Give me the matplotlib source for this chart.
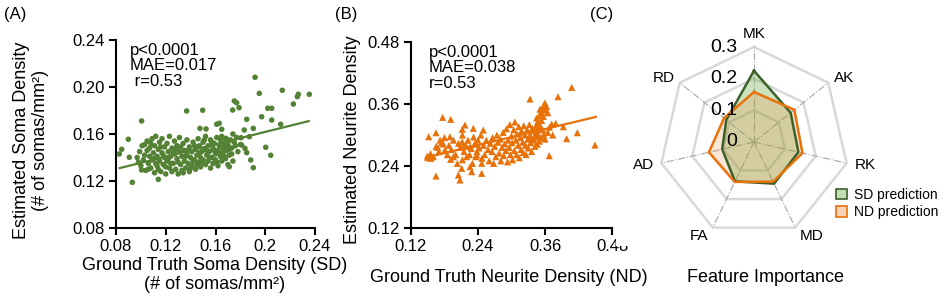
import numpy as np
import matplotlib
matplotlib.use("Agg")
import matplotlib.pyplot as plt
import matplotlib.transforms as mtransforms
from matplotlib.patches import Patch, Rectangle

plt.rcParams['font.family'] = ['Liberation Sans', 'DejaVu Sans']

# ---------------- data ----------------
# Panel A: Soma density (ground truth, estimated)
sd_x = [0.1918, 0.1952, 0.2137, 0.2266, 0.2258, 0.2226, 0.2354, 0.1751, 0.1770, 0.1738,
        0.1789, 0.2020, 0.2052, 0.1971, 0.1851, 0.1904, 0.2052, 0.2124, 0.1006, 0.1368,
        0.1497, 0.0899, 0.0846, 0.0827, 0.0907, 0.0931, 0.1006, 0.1140, 0.2004, 0.2044,
        0.1904, 0.1883, 0.1837, 0.1851, 0.1810, 0.1711, 0.1831, 0.1805, 0.1684, 0.1650,
        0.1610, 0.1630, 0.1475, 0.1524, 0.1872,
        0.097, 0.099, 0.100, 0.101, 0.102, 0.103, 0.104, 0.105, 0.105, 0.106, 0.107, 0.107,
        0.108, 0.109, 0.109, 0.110, 0.111, 0.111, 0.112, 0.112, 0.113, 0.114, 0.114, 0.115,
        0.115, 0.116, 0.117, 0.117, 0.118, 0.119, 0.119, 0.120, 0.121, 0.121, 0.122, 0.123,
        0.123, 0.124, 0.125, 0.125, 0.126, 0.127, 0.127, 0.128, 0.129, 0.129, 0.130, 0.131,
        0.131, 0.132, 0.133, 0.133, 0.134, 0.135, 0.135, 0.136, 0.137, 0.137, 0.138, 0.139,
        0.139, 0.140, 0.141, 0.141, 0.142, 0.143, 0.144, 0.144, 0.145, 0.146, 0.146, 0.147,
        0.148, 0.148, 0.149, 0.150, 0.150, 0.151, 0.152, 0.152, 0.153, 0.154, 0.154, 0.155,
        0.156, 0.156, 0.157, 0.158, 0.158, 0.159, 0.160, 0.160, 0.161, 0.162, 0.162, 0.163,
        0.164, 0.164, 0.165, 0.166, 0.166, 0.167, 0.168, 0.168, 0.169, 0.170, 0.170, 0.171,
        0.172, 0.173, 0.174, 0.175, 0.176, 0.178,
        0.098, 0.103, 0.106, 0.108, 0.110, 0.113, 0.116, 0.118, 0.120, 0.122, 0.124, 0.126,
        0.128, 0.130, 0.132, 0.134, 0.136, 0.138, 0.140, 0.142, 0.143, 0.145, 0.147, 0.149,
        0.151, 0.153, 0.155, 0.157, 0.159, 0.161, 0.163, 0.165, 0.167, 0.169, 0.171, 0.173,
        0.177, 0.180, 0.174]
sd_y = [0.2083, 0.1946, 0.1972, 0.1938, 0.1918, 0.1855, 0.1938, 0.1881, 0.1866, 0.1804,
        0.1824, 0.1819, 0.1819, 0.1747, 0.1725, 0.1648, 0.1719, 0.1683, 0.1711, 0.1796,
        0.1802, 0.1555, 0.1470, 0.1430, 0.1402, 0.1189, 0.1294, 0.1214, 0.1487, 0.1419,
        0.1313, 0.1379, 0.1478, 0.1441, 0.1506, 0.1322, 0.1634, 0.1568, 0.1563, 0.1640,
        0.1683, 0.1691, 0.1648, 0.1643, 0.1577,
        0.140, 0.145, 0.133, 0.150, 0.138, 0.142, 0.129, 0.146, 0.154, 0.135, 0.141, 0.148,
        0.131, 0.156, 0.138, 0.144, 0.127, 0.150, 0.135, 0.158, 0.141, 0.147, 0.130, 0.153,
        0.137, 0.128, 0.144, 0.156, 0.134, 0.149, 0.140, 0.126, 0.152, 0.137, 0.145, 0.131,
        0.158, 0.141, 0.148, 0.128, 0.135, 0.154, 0.143, 0.130, 0.139, 0.150, 0.126, 0.145,
        0.157, 0.134, 0.141, 0.129, 0.152, 0.137, 0.146, 0.131, 0.143, 0.155, 0.135, 0.149,
        0.128, 0.140, 0.145, 0.133, 0.153, 0.138, 0.147, 0.130, 0.142, 0.156, 0.136, 0.150,
        0.140, 0.132, 0.145, 0.153, 0.138, 0.147, 0.134, 0.158, 0.142, 0.150, 0.137, 0.145,
        0.131, 0.155, 0.140, 0.148, 0.135, 0.152, 0.143, 0.138, 0.157, 0.146, 0.133, 0.150,
        0.141, 0.155, 0.137, 0.148, 0.144, 0.152, 0.139, 0.156, 0.146, 0.134, 0.151, 0.142,
        0.155, 0.148, 0.137, 0.153, 0.150, 0.145,
        0.136, 0.151, 0.130, 0.152, 0.139, 0.133, 0.149, 0.142, 0.132, 0.139, 0.135, 0.144,
        0.147, 0.136, 0.149, 0.127, 0.141, 0.146, 0.131, 0.137, 0.150, 0.134, 0.144, 0.136,
        0.155, 0.146, 0.140, 0.153, 0.146, 0.136, 0.144, 0.158, 0.141, 0.150, 0.147, 0.143,
        0.157, 0.151, 0.160]
sd_fit_x = [0.083, 0.235]
sd_fit_y = [0.131, 0.171]

# Panel B: Neurite density (ground truth, estimated)
nd_x = [0.4078, 0.3833, 0.3331, 0.4495, 0.4179, 0.3988, 0.3738, 0.3677, 0.3928, 0.3792,
        0.3720, 0.1517, 0.1648, 0.1767, 0.1911, 0.1648, 0.2078, 0.2048, 0.1492, 0.1558,
        0.1779, 0.1809, 0.2167, 0.2118, 0.1898, 0.2118, 0.1911, 0.2108, 0.2287, 0.2257,
        0.2466, 0.2466, 0.2377, 0.2316, 0.2495, 0.2137, 0.2257, 0.2197, 0.2346,
        0.335, 0.339, 0.341, 0.337, 0.344, 0.347, 0.345, 0.350, 0.353, 0.351, 0.356, 0.358,
        0.360, 0.363, 0.355, 0.349, 0.343, 0.352, 0.357, 0.361, 0.365, 0.346, 0.354,
        0.250, 0.252, 0.255, 0.258, 0.260, 0.262, 0.265, 0.266, 0.268, 0.270, 0.272, 0.274,
        0.276, 0.278, 0.280, 0.281, 0.283, 0.285, 0.286, 0.288, 0.290, 0.291, 0.293, 0.294,
        0.296, 0.297, 0.298, 0.300, 0.301, 0.302, 0.304, 0.305, 0.306, 0.308, 0.309, 0.310,
        0.312, 0.313, 0.314, 0.316, 0.317, 0.318, 0.320, 0.321, 0.322, 0.324, 0.325, 0.326,
        0.328, 0.329, 0.330, 0.332, 0.333, 0.334, 0.336, 0.338, 0.340, 0.342, 0.344, 0.346,
        0.348, 0.350, 0.353, 0.356, 0.358, 0.360, 0.365, 0.368,
        0.240, 0.242, 0.245, 0.247, 0.238, 0.235, 0.232, 0.228, 0.225, 0.222, 0.218, 0.215,
        0.212, 0.208, 0.205, 0.200, 0.196, 0.192, 0.188, 0.185, 0.180, 0.175, 0.170, 0.165,
        0.160, 0.155, 0.150, 0.172, 0.168, 0.196, 0.203, 0.212, 0.230, 0.236]
nd_y = [0.3922, 0.3741, 0.3696, 0.2806, 0.3044, 0.2928, 0.3000, 0.2599, 0.3160, 0.3226,
        0.3212, 0.2967, 0.3044, 0.3342, 0.3303, 0.2206, 0.2129, 0.2226, 0.2593, 0.2549,
        0.2825, 0.2709, 0.3193, 0.3110, 0.2967, 0.2870, 0.2529, 0.2355, 0.2289, 0.2386,
        0.2258, 0.2452, 0.2613, 0.3129, 0.3096, 0.2773, 0.2773, 0.2580, 0.2839,
        0.295, 0.290, 0.308, 0.312, 0.318, 0.326, 0.333, 0.337, 0.345, 0.350, 0.352, 0.358,
        0.362, 0.355, 0.341, 0.322, 0.302, 0.316, 0.336, 0.348, 0.343, 0.310, 0.328,
        0.280, 0.262, 0.290, 0.272, 0.250, 0.284, 0.268, 0.295, 0.245, 0.278, 0.258, 0.300,
        0.286, 0.265, 0.292, 0.250, 0.276, 0.305, 0.260, 0.283, 0.270, 0.312, 0.248, 0.290,
        0.276, 0.320, 0.262, 0.298, 0.285, 0.252, 0.310, 0.270, 0.325, 0.290, 0.262, 0.302,
        0.280, 0.316, 0.256, 0.295, 0.272, 0.308, 0.286, 0.266, 0.318, 0.300, 0.280, 0.262,
        0.310, 0.292, 0.275, 0.320, 0.300, 0.285, 0.268, 0.312, 0.292, 0.278, 0.296, 0.282,
        0.300, 0.288, 0.295, 0.310, 0.300, 0.292, 0.305, 0.315,
        0.290, 0.275, 0.300, 0.255, 0.268, 0.282, 0.296, 0.274, 0.262, 0.290, 0.280, 0.268,
        0.300, 0.276, 0.284, 0.262, 0.290, 0.272, 0.280, 0.262, 0.295, 0.285, 0.268, 0.278,
        0.258, 0.264, 0.256, 0.290, 0.276, 0.258, 0.245, 0.252, 0.245, 0.258]
nd_fit_x = [0.149, 0.451]
nd_fit_y = [0.257, 0.335]

# Panel C: feature importance
features = ['MK', 'AK', 'RK', 'MD', 'FA', 'AD', 'RD']
sd_importance = [0.225, 0.148, 0.144, 0.146, 0.138, 0.103, 0.112]
nd_importance = [0.158, 0.163, 0.157, 0.139, 0.140, 0.146, 0.121]
radar_levels = [0.1, 0.2, 0.3]
radar_level_labels = ['0', '0.1', '0.2', '0.3']

# ---------------- styling ----------------
W, H = 946, 300
GREEN = '#548235'
GREEN_DARK = '#3b6128'
ORANGE = '#e8710a'
TICK_FS = 12
LAB_FS = 13


def fx(px):
    return px / W


def fy(py):
    return 1 - py / H


fig = plt.figure(figsize=(W / 100, H / 100), dpi=100)


def style_axes(ax):
    for s in ['top', 'right']:
        ax.spines[s].set_visible(False)
    for s in ['left', 'bottom']:
        ax.spines[s].set_linewidth(1.5)
    ax.tick_params(direction='out', length=5, width=1.5, labelsize=TICK_FS, pad=3)


# ---- Panel A ----
axA = fig.add_axes([fx(116), fy(228), 199 / W, 188 / H])
axA.scatter(sd_x, sd_y, s=16, color=GREEN, edgecolors='none', zorder=3, clip_on=False)
axA.plot(sd_fit_x, sd_fit_y, color=GREEN, lw=1.6, zorder=2)
axA.set_xlim(0.08, 0.24)
axA.set_ylim(0.08, 0.24)
xt = [0.08, 0.12, 0.16, 0.20, 0.24]
axA.set_xticks(xt)
axA.set_xticklabels(['0.08', '0.12', '0.16', '0.2', '0.24'])
axA.set_yticks(xt)
axA.set_yticklabels(['0.08', '0.12', '0.16', '0.20', '0.24'])
style_axes(axA)
axA.text(0.07, 0.985, 'p<0.0001\nMAE=0.017\n r=0.53', transform=axA.transAxes,
         ha='left', va='top', fontsize=12, linespacing=1.05)

fig.text(fx(31), fy(140), 'Estimated Soma Density\n(# of somas/mm²)', rotation=90,
         ha='center', va='center', fontsize=LAB_FS, linespacing=1.1)
fig.text(fx(215), fy(275), 'Ground Truth Soma Density (SD)\n(# of somas/mm²)',
         ha='center', va='center', fontsize=LAB_FS, linespacing=1.1)
fig.text(fx(4), fy(15), '(A)', ha='left', va='center', fontsize=12)

# ---- Panel B ----
axB = fig.add_axes([fx(411), fy(228), 201 / W, 186 / H])
axB.scatter(nd_x, nd_y, s=26, marker='^', color=ORANGE, edgecolors='none', zorder=3)
axB.plot(nd_fit_x, nd_fit_y, color=ORANGE, lw=1.6, zorder=2)
axB.set_xlim(0.12, 0.48)
axB.set_ylim(0.12, 0.48)
bt = [0.12, 0.24, 0.36, 0.48]
axB.set_xticks(bt)
axB.set_xticklabels(['0.12', '0.24', '0.36', '0.48'])
axB.set_yticks(bt)
axB.set_yticklabels(['0.12', '0.24', '0.36', '0.48'])
style_axes(axB)
axB.text(0.09, 0.985, 'p<0.0001\nMAE=0.038\nr=0.53', transform=axB.transAxes,
         ha='left', va='top', fontsize=12, linespacing=1.05)
fig.text(fx(352), fy(140), 'Estimated Neurite Density', rotation=90,
         ha='center', va='center', fontsize=LAB_FS)
fig.text(fx(509), fy(277), 'Ground Truth Neurite Density (ND)',
         ha='center', va='center', fontsize=LAB_FS)
fig.text(fx(335), fy(15), '(B)', ha='left', va='center', fontsize=12)

# ---- Panel C (radar) ----
cx, cy, R = 754, 142, 95
axC = fig.add_axes([fx(cx - R), fy(cy + R), 2 * R / W, 2 * R / H], projection='polar')
axC.set_theta_zero_location('N')
axC.set_theta_direction(-1)
axC.set_ylim(0, 0.3)
axC.grid(False)
axC.set_xticks([])
axC.set_yticks([])
axC.spines['polar'].set_visible(False)
axC.patch.set_visible(False)

n = len(features)
theta = [2 * np.pi * i / n for i in range(n)]
theta_c = theta + [theta[0]]

for lv in radar_levels:
    axC.plot(theta_c, [lv] * (n + 1), color='#d9d9d9', lw=1.8, zorder=1, clip_on=False)
for t in theta:
    axC.plot([t, t], [0, 0.3], color='#a6a6a6', lw=0.8, ls='-.', zorder=1)

sd_c = sd_importance + [sd_importance[0]]
nd_c = nd_importance + [nd_importance[0]]
axC.fill(theta_c, sd_c, color='#70ad47', alpha=0.35, lw=0, zorder=2)
axC.fill(theta_c, nd_c, color='#ed7d31', alpha=0.2, lw=0, zorder=2)
axC.plot(theta_c, sd_c, color=GREEN_DARK, lw=1.8, zorder=3)
axC.plot(theta_c, nd_c, color=ORANGE, lw=1.8, zorder=3)

label_cfg = {'MK': ('center', 'bottom', 0.318), 'AK': ('left', 'center', 0.322),
             'RK': ('left', 'center', 0.325), 'MD': ('left', 'center', 0.33),
             'FA': ('right', 'center', 0.33), 'AD': ('right', 'center', 0.325),
             'RD': ('right', 'center', 0.322)}
for t, f in zip(theta, features):
    ha, va, r = label_cfg[f]
    axC.text(t, r, f, ha=ha, va=va, fontsize=11, clip_on=False)

off = mtransforms.offset_copy(axC.transData, fig=fig, x=-17, y=0, units='dots')
for lv, lab in zip([0.0] + radar_levels, radar_level_labels):
    axC.text(0, lv, lab, transform=off, ha='right', va='center', fontsize=14,
             zorder=4, clip_on=False)

fig.text(fx(590), fy(15), '(C)', ha='left', va='center', fontsize=12)
fig.text(fx(765), fy(277), 'Feature Importance', ha='center', va='center', fontsize=LAB_FS)

handles = [Patch(facecolor='#c5dcb4', edgecolor=GREEN_DARK, lw=1.2, label='SD prediction'),
           Patch(facecolor='#f8d3b8', edgecolor=ORANGE, lw=1.2, label='ND prediction')]
fig.legend(handles=handles, loc='upper left', bbox_to_anchor=(fx(836), fy(188)),
           frameon=False, fontsize=10, handlelength=0.8, handleheight=0.8,
           handletextpad=0.5, labelspacing=0.25, borderpad=0, borderaxespad=0)

# partial mask over the clipped '0.48' label as in the reference
fig.add_artist(Rectangle((fx(616), fy(246)), 34 / W, 16 / H, transform=fig.transFigure,
                         facecolor='white', edgecolor='none', zorder=10))

fig.savefig('out.png', dpi=100)
